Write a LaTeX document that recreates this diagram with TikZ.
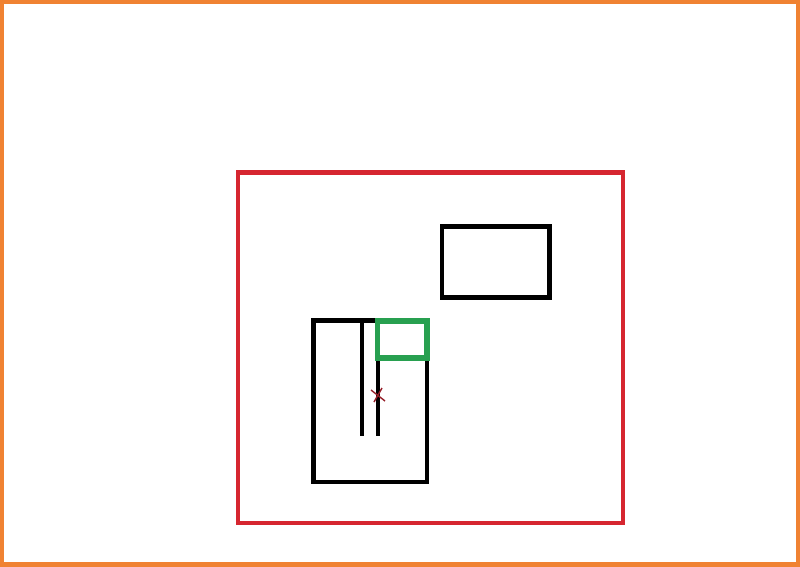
\documentclass[tikz,border=0pt]{standalone}
\usepackage{tikz}
\usetikzlibrary{positioning}
\definecolor{framecol}{RGB}{240,130,50}
\definecolor{roomcol}{RGB}{214,38,48}
\definecolor{boxcol}{RGB}{40,160,80}
\definecolor{markcol}{RGB}{150,30,40}
\tikzset{frameline/.style={draw=framecol,line width=3pt}}
\tikzset{roomline/.style={draw=roomcol,line width=2.8pt}}
\tikzset{wallline/.style={draw=black,line width=2.7pt}}
\tikzset{boxline/.style={draw=boxcol,line width=3pt}}

\begin{document}
\begin{tikzpicture}[x=0.02cm,y=-0.02cm]
                \useasboundingbox (0,0) rectangle (800,566);
                \fill[white] (0,0) rectangle (800,566);
                \draw[frameline] (1.5,1.5) rectangle (798.5,564.5);
                % outer room
                \coordinate (r1) at (238,172.5);
                \coordinate (r2) at (623,523);
                \draw[roomline] (r1) rectangle (r2);
                % small box top right
                \coordinate (t1) at (442,226.5);
                \coordinate (t2) at (549.5,297.5);
                \draw[wallline] (t1) rectangle (t2);
                % lower box with two walls
                \coordinate (b1) at (313.5,320.5);
                \coordinate (b2) at (427,482);
                \draw[wallline] (b1) rectangle (b2);
                \coordinate (w1) at (362,320.5);
                \coordinate (w1e) at (362,436);
                \coordinate (w2) at (378,357);
                \coordinate (w2e) at (378,436);
                \draw[wallline] (w1) -- (w1e);
                \draw[wallline] (w2) -- (w2e);
                % green box
                \coordinate (g1) at (377.5,321);
                \coordinate (g2) at (427,358);
                \draw[boxline] (g1) rectangle (g2);
                % mark
                \coordinate (m) at (378,395);
                \draw[markcol,line width=0.8pt] ([shift={(-7,-5)}]m) -- ([shift={(7,6)}]m);
                \draw[markcol,line width=0.8pt] ([shift={(4,-7)}]m) -- ([shift={(-4,7)}]m);
            \end{tikzpicture}
\end{document}
